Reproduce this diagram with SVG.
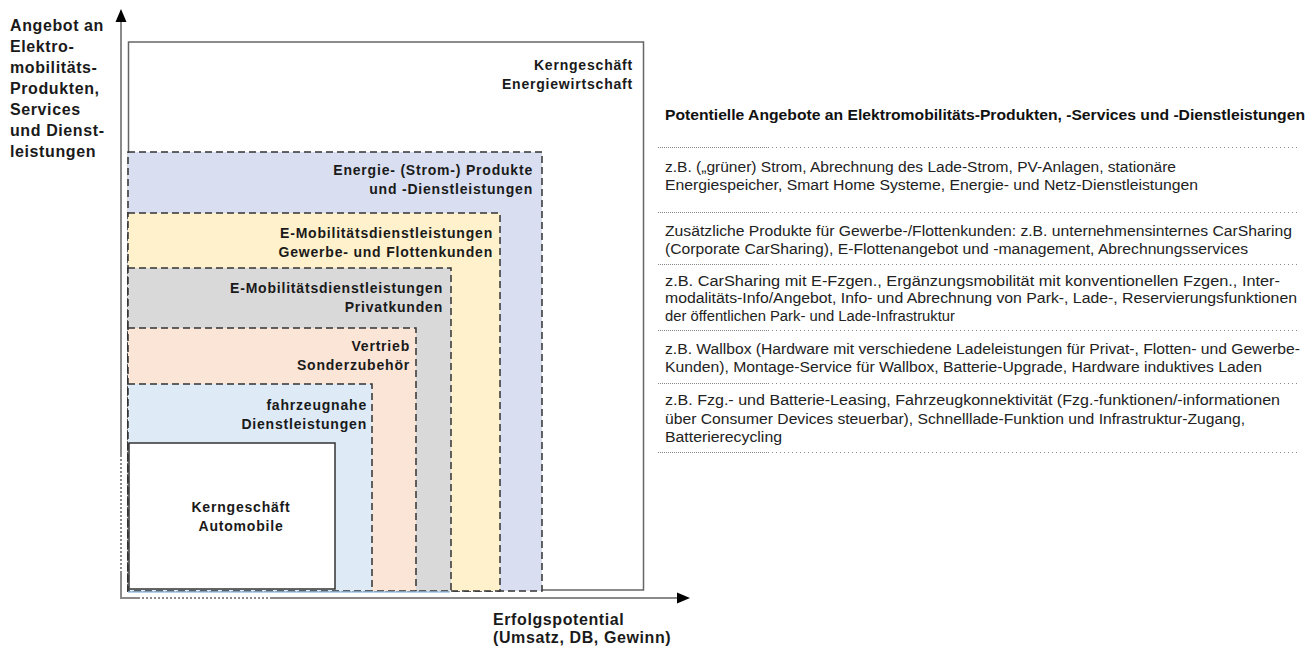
<svg xmlns="http://www.w3.org/2000/svg" width="1307" height="647" viewBox="0 0 1307 647">
<style>
.lbl{font-family:"Liberation Sans",Arial,sans-serif;font-weight:bold;font-size:14px;letter-spacing:0.8px;fill:#1a1a1a}
.ax{font-family:"Liberation Sans",Arial,sans-serif;font-weight:bold;font-size:16px;letter-spacing:0.6px;fill:#1a1a1a}
.rt{font-family:"Liberation Sans",Arial,sans-serif;font-size:14px;fill:#222}
.rtb{font-family:"Liberation Sans",Arial,sans-serif;font-weight:bold;font-size:14px;fill:#111}
.dash{stroke:#333;stroke-width:1.5;stroke-dasharray:7 4}
.dotA{stroke:#888;stroke-width:1;stroke-dasharray:1 1}
.dotB{stroke:#888;stroke-width:1;stroke-dasharray:1 3}
.axis{stroke:#8a8a8a;stroke-width:2;fill:none}
</style>
<rect width="1307" height="647" fill="#fff"/>

<g id="energiewirtschaft">
<rect x="128.5" y="42" width="515" height="548" fill="#fff" stroke="#666" stroke-width="1.5"/>
<text class="lbl" x="633" y="70" text-anchor="end">Kerngeschäft</text>
<text class="lbl" x="633" y="89" text-anchor="end">Energiewirtschaft</text>
</g>

<g id="energie-produkte">
<rect class="dash" x="128" y="152" width="414" height="439" fill="#d9dff1"/>
<text class="lbl" x="533" y="175" text-anchor="end">Energie- (Strom-) Produkte</text>
<text class="lbl" x="533" y="194" text-anchor="end">und -Dienstleistungen</text>
</g>

<g id="gewerbe-flotten">
<rect class="dash" x="128" y="213" width="372" height="378" fill="#fff1cc"/>
<text class="lbl" x="493" y="238" text-anchor="end">E-Mobilitätsdienstleistungen</text>
<text class="lbl" x="493" y="257" text-anchor="end">Gewerbe- und Flottenkunden</text>
</g>

<g id="privatkunden">
<rect class="dash" x="128" y="268" width="323" height="323" fill="#d9d9d9"/>
<text class="lbl" x="443" y="293" text-anchor="end">E-Mobilitätsdienstleistungen</text>
<text class="lbl" x="443" y="312" text-anchor="end">Privatkunden</text>
</g>

<g id="sonderzubehoer">
<rect class="dash" x="128" y="328" width="288" height="263" fill="#fbe5d6"/>
<text class="lbl" x="410" y="351" text-anchor="end">Vertrieb</text>
<text class="lbl" x="410" y="370" text-anchor="end">Sonderzubehör</text>
</g>

<g id="fahrzeugnahe">
<rect class="dash" x="128" y="384" width="244" height="207" fill="#deebf7"/>
<text class="lbl" x="367" y="410" text-anchor="end">fahrzeugnahe</text>
<text class="lbl" x="367" y="429" text-anchor="end">Dienstleistungen</text>
</g>

<g id="automobile">
<rect x="129" y="443" width="206" height="146" fill="#fff" stroke="#333" stroke-width="1.5"/>
<text class="lbl" x="241" y="512" text-anchor="middle">Kerngeschäft</text>
<text class="lbl" x="241" y="531" text-anchor="middle">Automobile</text>
</g>

<line x1="128" y1="592" x2="450" y2="592" stroke="#9dc3e6" stroke-width="1.5"/>

<g id="connectors">
<path class="axis" d="M121 598 V573"/>
<path d="M121 573 V455" stroke="#8a8a8a" stroke-width="2" stroke-dasharray="2 2"/>
<path class="axis" d="M121 455 V20"/>
<polygon points="121,9 115.5,22 126.5,22" fill="#000"/>
<path class="axis" d="M120 598 H138"/>
<path d="M138 598 H270" stroke="#8a8a8a" stroke-width="2" stroke-dasharray="2 2"/>
<path class="axis" d="M270 598 H678"/>
<polygon points="690,598 677,592.5 677,603.5" fill="#000"/>
</g>

<g id="y-axis-label">
<text class="ax" x="10" y="31">Angebot an</text>
<text class="ax" x="10" y="52">Elektro-</text>
<text class="ax" x="10" y="73">mobilitäts-</text>
<text class="ax" x="10" y="94">Produkten,</text>
<text class="ax" x="10" y="115">Services</text>
<text class="ax" x="10" y="136">und Dienst-</text>
<text class="ax" x="10" y="157">leistungen</text>
</g>

<g id="x-axis-label">
<text class="ax" x="493" y="625">Erfolgspotential</text>
<text class="ax" x="493" y="643">(Umsatz, DB, Gewinn)</text>
</g>

<g id="angebote-liste">
<text class="rtb" x="665" y="120" textLength="640" lengthAdjust="spacingAndGlyphs">Potentielle Angebote an Elektromobilitäts-Produkten, -Services und -Dienstleistungen</text>
<g>
<line class="dotA" x1="658" y1="147.5" x2="770" y2="147.5"/><line class="dotB" x1="772" y1="147.5" x2="1297" y2="147.5"/>
<line class="dotA" x1="658" y1="212.5" x2="770" y2="212.5"/><line class="dotB" x1="772" y1="212.5" x2="1297" y2="212.5"/>
<line class="dotA" x1="658" y1="264.5" x2="770" y2="264.5"/><line class="dotB" x1="772" y1="264.5" x2="1297" y2="264.5"/>
<line class="dotA" x1="658" y1="330.5" x2="770" y2="330.5"/><line class="dotB" x1="772" y1="330.5" x2="1297" y2="330.5"/>
<line class="dotA" x1="658" y1="383.5" x2="770" y2="383.5"/><line class="dotB" x1="772" y1="383.5" x2="1297" y2="383.5"/>
<line class="dotA" x1="658" y1="452.5" x2="770" y2="452.5"/><line class="dotB" x1="772" y1="452.5" x2="1297" y2="452.5"/>
</g>
<text class="rt" x="665" y="172" textLength="511" lengthAdjust="spacingAndGlyphs">z.B. („grüner) Strom, Abrechnung des Lade-Strom, PV-Anlagen, stationäre</text>
<text class="rt" x="665" y="190" textLength="533" lengthAdjust="spacingAndGlyphs">Energiespeicher, Smart Home Systeme, Energie- und Netz-Dienstleistungen</text>
<text class="rt" x="665" y="236" textLength="627" lengthAdjust="spacingAndGlyphs">Zusätzliche Produkte für Gewerbe-/Flottenkunden: z.B. unternehmensinternes CarSharing</text>
<text class="rt" x="665" y="254" textLength="583" lengthAdjust="spacingAndGlyphs">(Corporate CarSharing), E-Flottenangebot und -management, Abrechnungsservices</text>
<text class="rt" x="665" y="286" textLength="615" lengthAdjust="spacingAndGlyphs">z.B. CarSharing mit E-Fzgen., Ergänzungsmobilität mit konventionellen Fzgen., Inter-</text>
<text class="rt" x="665" y="303" textLength="632" lengthAdjust="spacingAndGlyphs">modalitäts-Info/Angebot, Info- und Abrechnung von Park-, Lade-, Reservierungsfunktionen</text>
<text class="rt" x="665" y="321" textLength="290" lengthAdjust="spacingAndGlyphs">der öffentlichen Park- und Lade-Infrastruktur</text>
<text class="rt" x="665" y="354" textLength="635" lengthAdjust="spacingAndGlyphs">z.B. Wallbox (Hardware mit verschiedene Ladeleistungen für Privat-, Flotten- und Gewerbe-</text>
<text class="rt" x="665" y="372" textLength="597" lengthAdjust="spacingAndGlyphs">Kunden), Montage-Service für Wallbox, Batterie-Upgrade, Hardware induktives Laden</text>
<text class="rt" x="665" y="405" textLength="615" lengthAdjust="spacingAndGlyphs">z.B. Fzg.- und Batterie-Leasing, Fahrzeugkonnektivität (Fzg.-funktionen/-informationen</text>
<text class="rt" x="665" y="424" textLength="580" lengthAdjust="spacingAndGlyphs">über Consumer Devices steuerbar), Schnelllade-Funktion und Infrastruktur-Zugang,</text>
<text class="rt" x="665" y="442" textLength="117" lengthAdjust="spacingAndGlyphs">Batterierecycling</text>
</g>
</svg>
